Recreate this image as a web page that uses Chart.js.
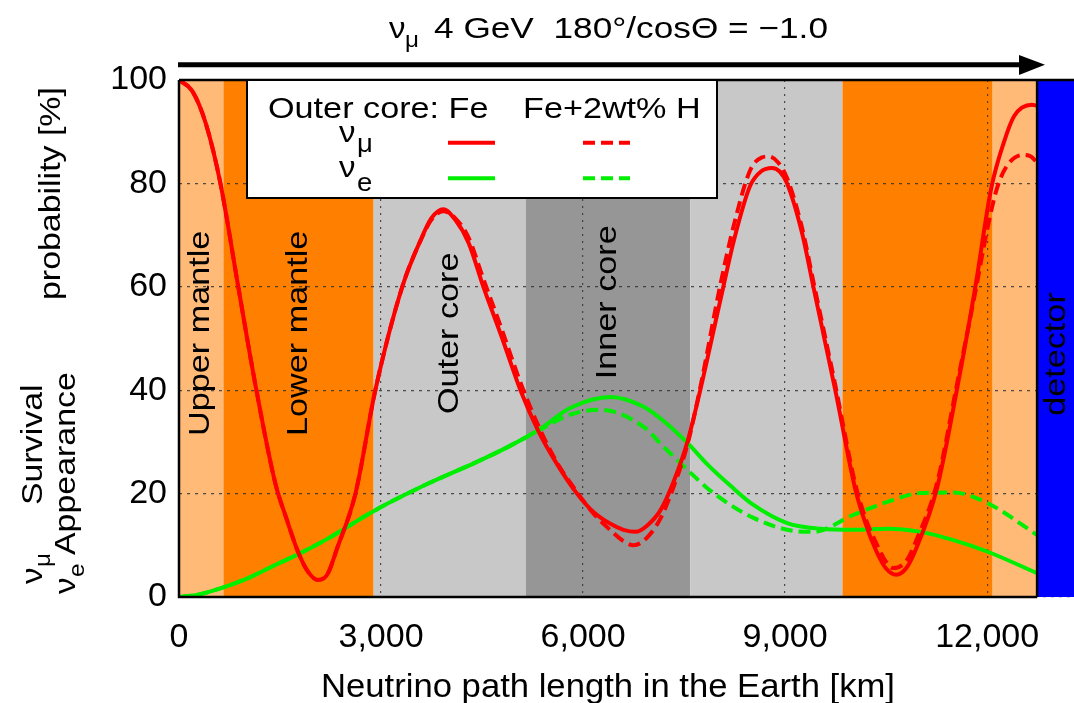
<!DOCTYPE html>
<html>
<head>
<meta charset="utf-8">
<script src="https://cdn.jsdelivr.net/npm/chart.js@4.4.1/dist/chart.umd.min.js"></script>
<style>
  html, body { margin: 0; padding: 0; background: #fff; }
  #wrap { width: 1074px; height: 703px; }
</style>
</head>
<body>
<div id="wrap"><canvas id="c" width="1074" height="703"></canvas></div>
<script>
// Earth layers along the path (km) and their names
const layerEdges = [0, 660, 2890, 5150, 7592, 9852, 12082, 12742];
const layerNames = ['Upper mantle', 'Lower mantle', 'Outer core', 'Inner core'];
const layerColors = ['#ffba78', '#ff8000', '#c8c8c8', '#969696', '#c8c8c8', '#ff8000', '#ffba78'];
const detectorName = 'detector';

const xTicks = [0, 3000, 6000, 9000, 12000];
const yTicks = [0, 20, 40, 60, 80, 100];

// nu_mu survival, outer core Fe
const muFeKm = [0, 200, 400, 615, 880, 1135, 1430, 1600, 1775, 1920, 2063, 2200, 2350, 2620, 2915, 3315, 3600, 3750, 3925, 4100, 4300, 4520, 4800, 5070, 5340, 5600, 5910, 6150, 6400, 6600, 6780, 6950, 7150, 7350, 7550, 7740, 8040, 8250, 8480, 8650, 8805, 8920, 9030, 9250, 9420, 9745, 10040, 10200, 10350, 10500, 10650, 10800, 10950, 11255, 11550, 11825, 12060, 12250, 12400, 12665, 12742];
const muFeProb = [100, 97.8, 91.5, 80, 60, 41, 22, 15, 8.5, 4.8, 3.3, 4.3, 9.5, 20, 40, 60, 69.4, 73.3, 75, 73, 68.5, 60, 50, 40, 32, 26, 20, 16.5, 14.2, 13, 12.6, 13.8, 16.8, 22.5, 30, 40, 57.5, 69.5, 79.5, 82.4, 83, 82.3, 80, 70.5, 60, 40, 21, 14, 9, 5.5, 4.3, 5.6, 9.5, 21, 40, 60, 79, 88, 93, 95.2, 95];

// nu_mu survival, outer core Fe+2wt% H
const muHKm = [0, 200, 400, 615, 880, 1135, 1430, 1600, 1775, 1920, 2063, 2200, 2350, 2620, 2915, 3315, 3600, 3750, 3925, 4100, 4300, 4520, 4800, 5070, 5340, 5600, 5910, 6150, 6400, 6600, 6750, 6950, 7150, 7350, 7550, 7740, 8040, 8250, 8480, 8650, 8755, 8900, 9030, 9250, 9420, 9745, 10040, 10200, 10350, 10500, 10610, 10800, 10950, 11255, 11550, 11825, 12000, 12145, 12300, 12540, 12650, 12742];
const muHProb = [100, 97.8, 91.5, 80, 60, 41, 22, 15, 8.5, 4.8, 3.3, 4.3, 9.5, 20, 40, 60, 69.3, 73, 74.6, 73.3, 69.5, 61.5, 51.5, 41.5, 33, 26.3, 20.3, 16.2, 13, 10.8, 10, 11.5, 15.2, 21.5, 29.5, 40.5, 60.5, 72.5, 82.5, 85, 85.2, 84, 81, 71.5, 61, 41, 22, 15, 10.5, 6.8, 5.6, 7, 11, 22, 41, 59, 71, 79, 83.5, 85.5, 85.2, 84];

// nu_e appearance, outer core Fe
const eFeKm = [0, 300, 690, 1000, 1430, 1775, 2170, 2915, 3660, 4400, 4820, 5340, 5815, 6410, 6900, 7200, 7550, 7850, 8190, 8530, 9030, 9525, 10020, 10520, 11010, 11500, 12000, 12742];
const eFeProb = [0, 0.5, 2, 3.5, 6.2, 8.3, 11, 16.8, 21.7, 26, 28.6, 32.3, 36.6, 38.7, 36.8, 34, 29.8, 25.6, 21.5, 17.8, 14.3, 13.2, 13, 13.2, 12.6, 11, 8.8, 4.6];

// nu_e appearance, outer core Fe+2wt% H
const eHKm = [0, 300, 690, 1000, 1430, 1775, 2170, 2915, 3660, 4400, 4820, 5340, 5815, 6260, 6900, 7200, 7550, 7850, 8190, 8530, 9030, 9420, 10015, 10520, 11010, 11500, 12000, 12742];
const eHProb = [0, 0.5, 2, 3.5, 6.2, 8.3, 11, 16.8, 21.7, 26, 28.6, 32.2, 35.3, 36.2, 32.9, 29, 24.6, 21, 17.8, 15.3, 13, 12.6, 15.9, 18.4, 20.1, 20.2, 18.2, 12];

const legendCols = ['Outer core: Fe', 'Fe+2wt% H'];

const FONT = '"Liberation Sans", Arial, Helvetica, sans-serif';
const RED = '#ff0000';
const GREEN = '#00ee00';
const DASH = [12, 6];

const pts = (xs, ys) => xs.map((v, i) => ({ x: v, y: ys[i] }));

// text helper: sx stretches along the text direction
function txt(ctx, s, x, y, size, sx, opt) {
  opt = opt || {};
  ctx.save();
  ctx.translate(x, y);
  if (opt.rot) ctx.rotate(opt.rot);
  ctx.scale(sx || 1, 1);
  ctx.font = size + 'px ' + FONT;
  ctx.fillStyle = opt.color || '#000';
  ctx.textAlign = opt.align || 'left';
  ctx.textBaseline = opt.base || 'alphabetic';
  ctx.fillText(s, 0, 0);
  ctx.restore();
}
const UP = -Math.PI / 2;

const earthPlugin = {
  id: 'earth',
  beforeDraw(chart) {
    const { ctx, chartArea: a, scales: { x } } = chart;
    ctx.save();
    for (let i = 0; i < layerColors.length; i++) {
      const x0 = x.getPixelForValue(layerEdges[i]);
      const x1 = x.getPixelForValue(layerEdges[i + 1]);
      ctx.fillStyle = layerColors[i];
      ctx.fillRect(x0, a.top, x1 - x0, a.bottom - a.top);
    }
    ctx.restore();
  },
  beforeDatasetsDraw(chart) {
    const { ctx, chartArea: a, scales: { x, y } } = chart;
    const xd = x.getPixelForValue(layerEdges[layerEdges.length - 1]);
    ctx.save();
    ctx.fillStyle = '#0000ff';
    ctx.fillRect(xd, a.top, a.right - xd, a.bottom - a.top);
    ctx.restore();
    // layer names, rotated, centred in their layer
    const labelY = [51, 51, 51, 57];
    layerNames.forEach((n, i) => {
      const cx = (x.getPixelForValue(layerEdges[i]) + x.getPixelForValue(layerEdges[i + 1])) / 2;
      txt(ctx, n, cx, y.getPixelForValue(labelY[i]), 30, 1.14, { rot: UP, align: 'center', base: 'middle' });
    });
    txt(ctx, detectorName, (xd + a.right) / 2 + 1, y.getPixelForValue(47), 30, 1.14, { rot: UP, align: 'center', base: 'middle' });
  },
  afterDatasetsDraw(chart) {
    const { ctx, chartArea: a, scales: { x } } = chart;
    const xd = x.getPixelForValue(layerEdges[layerEdges.length - 1]);
    ctx.save();
    ctx.strokeStyle = '#000';
    ctx.lineWidth = 2.5;
    ctx.beginPath();
    ctx.moveTo(a.left, a.top); ctx.lineTo(a.right, a.top);
    ctx.moveTo(a.left, a.top); ctx.lineTo(a.left, a.bottom); ctx.lineTo(xd, a.bottom);
    ctx.moveTo(xd, a.top); ctx.lineTo(xd, a.bottom);
    ctx.stroke();

    // legend box
    const L = 247, T = a.top, R = 717, B = 198;
    ctx.fillStyle = '#fff';
    ctx.fillRect(L, T, R - L, B - T);
    ctx.lineWidth = 2;
    ctx.strokeRect(L, T, R - L, B - T);
    txt(ctx, legendCols[0], 268, 118, 30, 1.14);
    txt(ctx, legendCols[1], 523, 118, 30, 1.14);
    txt(ctx, 'ν', 339, 142, 30, 1.1);
    txt(ctx, 'μ', 357, 152, 25, 1.1);
    txt(ctx, 'ν', 339, 177, 30, 1.1);
    txt(ctx, 'e', 357, 191, 25, 1.1);
    const rows = [[142.7, RED], [178.3, GREEN]];
    ctx.lineWidth = 4;
    rows.forEach(([yy, c]) => {
      ctx.strokeStyle = c;
      ctx.setLineDash([]);
      ctx.beginPath(); ctx.moveTo(448, yy); ctx.lineTo(495, yy); ctx.stroke();
      ctx.setLineDash(DASH);
      ctx.beginPath(); ctx.moveTo(583, yy); ctx.lineTo(630, yy); ctx.stroke();
    });
    ctx.restore();
  },
  afterDraw(chart) {
    const { ctx, chartArea: a } = chart;
    ctx.save();
    // title
    txt(ctx, 'ν', 389, 38, 30, 1.1);
    txt(ctx, 'μ', 405, 47, 22, 1.1);
    const rest = '4 GeV  180°/cosΘ = −1.0';
    ctx.font = '30px ' + FONT;
    const w = ctx.measureText(rest).width;
    txt(ctx, rest, 434, 38, 30, (828 - 434) / w);
    // arrow
    ctx.strokeStyle = '#000';
    ctx.lineWidth = 5;
    ctx.beginPath(); ctx.moveTo(a.left - 1, 64.7); ctx.lineTo(1022, 64.7); ctx.stroke();
    ctx.fillStyle = '#000';
    ctx.beginPath(); ctx.moveTo(1019, 55); ctx.lineTo(1045, 64.7); ctx.lineTo(1019, 75); ctx.closePath(); ctx.fill();
    // y axis title
    txt(ctx, 'ν', 42, 584, 30, 1.1, { rot: UP });
    txt(ctx, 'μ', 50, 567, 22, 1.1, { rot: UP });
    txt(ctx, 'Survival', 42, 505, 30, 1.13, { rot: UP });
    txt(ctx, 'ν', 75, 594, 30, 1.1, { rot: UP });
    txt(ctx, 'e', 84, 577, 22, 1.1, { rot: UP });
    txt(ctx, 'Appearance', 75, 555, 30, 1.13, { rot: UP });
    txt(ctx, 'probability [%]', 60, 300, 30, 1.13, { rot: UP });
    // x axis title
    txt(ctx, 'Neutrino path length in the Earth [km]', 608, 697, 33, 1.05, { align: 'center' });
    ctx.restore();
  }
};

const line = (data, color, dash) => ({
  data, borderColor: color, borderWidth: 4, borderDash: dash || [],
  pointRadius: 0, fill: false, cubicInterpolationMode: 'monotone'
});

new Chart(document.getElementById('c'), {
  type: 'line',
  data: {
    datasets: [
      line(pts(muFeKm, muFeProb), RED),
      line(pts(muHKm, muHProb), RED, DASH),
      line(pts(eFeKm, eFeProb), GREEN),
      line(pts(eHKm, eHProb), GREEN, DASH)
    ]
  },
  options: {
    responsive: false,
    animation: false,
    layout: { padding: { top: 80, left: 0, right: 0, bottom: 0 } },
    plugins: { legend: { display: false }, tooltip: { enabled: false }, title: { display: false } },
    scales: {
      x: {
        type: 'linear', min: 0, max: 13290,
        afterBuildTicks: s => { s.ticks = xTicks.map(v => ({ value: v })); },
        afterFit: s => { s.height = 106; },
        grid: { color: 'rgba(50,50,50,0.85)', lineWidth: 1.2, drawTicks: false },
        border: { display: false, dash: [2, 5] },
        ticks: {
          padding: 20, color: '#000', autoSkip: false, maxRotation: 0,
          font: { family: FONT, size: 34 },
          callback: v => v.toLocaleString('en-US')
        }
      },
      y: {
        min: 0, max: 100,
        afterBuildTicks: s => { s.ticks = yTicks.map(v => ({ value: v })); },
        afterFit: s => { s.width = 179; },
        grid: { color: 'rgba(50,50,50,0.85)', lineWidth: 1.2, drawTicks: false },
        border: { display: false, dash: [3, 5] },
        ticks: { padding: 12, color: '#000', autoSkip: false, font: { family: FONT, size: 34 } }
      }
    }
  },
  plugins: [earthPlugin]
});
</script>
</body>
</html>
